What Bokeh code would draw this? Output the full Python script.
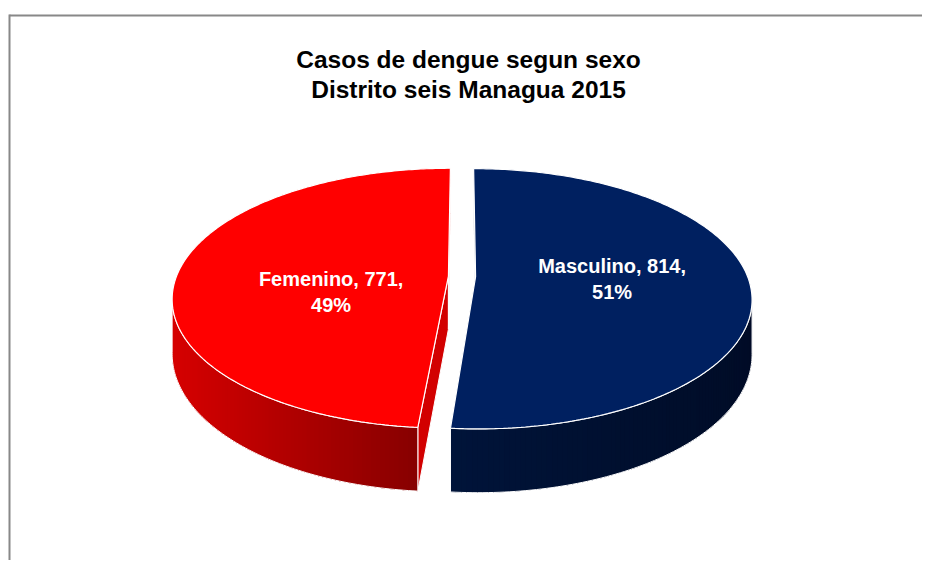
import numpy as np
from bokeh.plotting import figure
from bokeh.models import Range1d
from bokeh.core.properties import value
from bokeh.embed import file_html
from bokeh.resources import INLINE

# ---------------- data ----------------
categories = ["Masculino", "Femenino"]
counts = [814, 771]
title_lines = ["Casos de dengue segun sexo", "Distrito seis Managua 2015"]

# ---------------- styles ----------------
top_colors = ["#002060", "#FF0000"]
side_light = ["#00143A", "#D60000"]
side_dark = ["#000C27", "#870000"]
cut_colors = ["#001030", "#D20000"]
FONT = value("Liberation Sans")

W, H = 922, 560
X0, Y0 = 0, 0  # data coords equal screenshot pixels

# 3-D pie projection parameters (pixels)
CX, CY = 461.5, 276.0
A, B = 272.0, 126.3
K = 0.169         # perspective strength
H0 = 53.0         # thickness at mid depth
EXPLODE = 0.05    # explosion (fraction of radius)

p = figure(width=W, height=H, output_backend="svg", toolbar_location=None,
           x_axis_type=None, y_axis_type=None,
           x_range=Range1d(X0, X0 + W), y_range=Range1d(Y0 + H, Y0),
           min_border=0, outline_line_color=None, background_fill_color="white")
p.grid.visible = False


def proj(U, V):
    f = 1.0 / (1.0 + K * V)
    return CX + A * U * f, CY - B * V * f, f


def hex2rgb(h):
    h = h.lstrip("#")
    return np.array([int(h[i:i + 2], 16) for i in (0, 2, 4)], dtype=float)


def rgb2hex(c):
    return "#%02x%02x%02x" % tuple(int(round(v)) for v in c)


total = float(sum(counts))
angles = np.cumsum([0.0] + [360.0 * c / total for c in counts])
sil_r = np.degrees(np.arccos(-K))          # right silhouette angle
sil_l = 360.0 - sil_r                      # left silhouette angle

cut_xs, cut_ys, cut_fc = [], [], []
strip_xs, strip_ys, strip_fc = [], [], []
side_out_xs, side_out_ys = [], []
top_xs, top_ys, top_fc = [], [], []
label_anchor = []

for i, cat in enumerate(categories):
    s, e = angles[i], angles[i + 1]
    bis = np.radians((s + e) / 2.0)
    oU, oV = EXPLODE * np.sin(bis), EXPLODE * np.cos(bis)

    ax, ay, af = proj(oU, oV)
    ay_b = ay + H0 * af

    th = np.radians(np.linspace(s, e, 240))
    rx, ry, rf = proj(np.sin(th) + oU, np.cos(th) + oV)

    # top face
    top_xs.append([ax] + list(rx))
    top_ys.append([ay] + list(ry))
    top_fc.append(top_colors[i])

    # radial cut faces
    for t in (s, e):
        tr = np.radians(t)
        px_, py_, pf_ = proj(np.sin(tr) + oU, np.cos(tr) + oV)
        cut_xs.append([ax, px_, px_, ax])
        cut_ys.append([ay, py_, py_ + H0 * pf_, ay_b])
        cut_fc.append(cut_colors[i])

    # outer side (front, visible part) as overlapping gradient strips
    lo, hi = max(s, sil_r), min(e, sil_l)
    if hi > lo:
        n = 90
        ts = np.radians(np.linspace(lo, hi, n + 1))
        sx, sy, sf = proj(np.sin(ts) + oU, np.cos(ts) + oV)
        by = sy + H0 * sf
        xmin, xmax = sx.min(), sx.max()
        cl, cd = hex2rgb(side_light[i]), hex2rgb(side_dark[i])
        for j in range(n):
            k2 = min(j + 3, n)
            seg = slice(j, k2 + 1)
            strip_xs.append(list(sx[seg]) + list(sx[seg][::-1]))
            strip_ys.append(list(sy[seg]) + list(by[seg][::-1]))
            frac = ((sx[j] + sx[j + 1]) / 2 - xmin) / (xmax - xmin)
            strip_fc.append(rgb2hex(cl + (cd - cl) * frac))
        side_out_xs.append(list(sx) + list(sx[::-1]))
        side_out_ys.append(list(sy) + list(by[::-1]))

    # label anchor (half radius along bisector)
    lx, ly, _ = proj(0.5 * np.sin(bis) + oU, 0.5 * np.cos(bis) + oV)
    label_anchor.append((lx, ly))

# draw: cut faces -> sides -> tops
p.patches(cut_xs, cut_ys, fill_color=cut_fc, line_color="white", line_width=1)
p.patches(strip_xs, strip_ys, fill_color=strip_fc, line_color=None)
p.patches(side_out_xs, side_out_ys, fill_color=None, line_color="white", line_width=1)
p.patches(top_xs, top_ys, fill_color=top_fc, line_color="white", line_width=1.2)

# data labels
label_nudge = {"Masculino": (0, -7), "Femenino": (18, 11)}
lab_x, lab_y, lab_t = [], [], []
for i, cat in enumerate(categories):
    pct = int(round(100.0 * counts[i] / total))
    nx, ny = label_nudge[cat]
    cx_, cy_ = label_anchor[i][0] + nx, label_anchor[i][1] + ny
    lab_x += [cx_, cx_]
    lab_y += [cy_ - 6, cy_ + 20]
    lab_t += [f"{cat}, {counts[i]},", f"{pct}%"]
p.text(lab_x, lab_y, text=lab_t, text_font=FONT, text_font_style="bold",
       text_font_size="20px", text_color="white", text_align="center",
       text_baseline="alphabetic")

# title
p.text([468, 468], [59, 89], text=title_lines, text_font=FONT, text_font_style="bold",
       text_font_size="24.5px", text_color="black", text_align="center",
       text_baseline="alphabetic")

# chart area border (top and left edges visible)
p.line([9, X0 + W], [15, 15], line_color="#888888", line_width=2)
p.line([9, 9], [14, Y0 + H], line_color="#888888", line_width=2)

open("out.html", "w").write(file_html(p, INLINE))
